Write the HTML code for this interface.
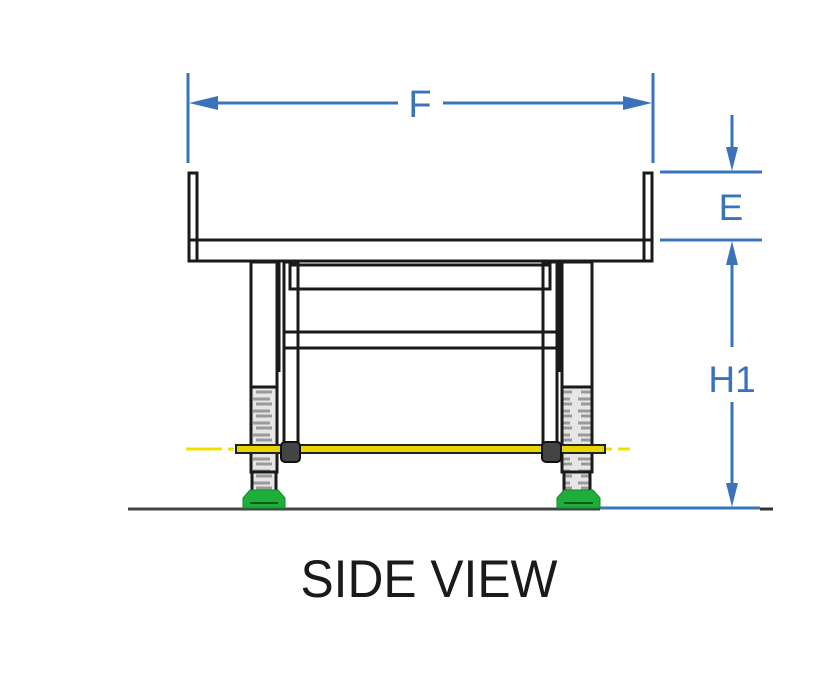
<!DOCTYPE html>
<html><head><meta charset="utf-8"><style>html,body{margin:0;padding:0;background:#fff}svg{display:block}</style></head>
<body>
<svg width="823" height="682" viewBox="0 0 823 682" xmlns="http://www.w3.org/2000/svg">
<defs>
<pattern id="hatch" width="25" height="12" patternUnits="userSpaceOnUse">
<rect width="25" height="12" fill="#e6e6e6"/>
<path d="M3 3 H20 M6 8 H22" stroke="#9a9a9a" stroke-width="3"/>
</pattern>
</defs>
<!-- dimension lines blue -->
<g stroke="#3b73bb" stroke-width="3" fill="none">
<line x1="188" y1="73" x2="188" y2="163"/>
<line x1="653" y1="73" x2="653" y2="163"/>
<line x1="200" y1="103" x2="398" y2="103"/>
<line x1="443" y1="103" x2="641" y2="103"/>
<line x1="660" y1="172" x2="762" y2="172"/>
<line x1="660" y1="240" x2="762" y2="240"/>
<line x1="732" y1="115" x2="732" y2="160"/>
<line x1="732" y1="252" x2="732" y2="347"/>
<line x1="732" y1="402" x2="732" y2="496"/>
<line x1="600" y1="508" x2="760" y2="508"/>
</g>
<g fill="#3b73bb">
<polygon points="189,103 218,96 218,110"/>
<polygon points="652,103 623,96 623,110"/>
<polygon points="732,171 726,147 738,147"/>
<polygon points="732,241 726,265 738,265"/>
<polygon points="732,507 726,483 738,483"/>
</g>
<g fill="#3b73bb" font-family="Liberation Sans, sans-serif" text-anchor="middle">
<text x="420" y="117" font-size="38">F</text>
<text x="731" y="220" font-size="37">E</text>
<text x="732" y="392" font-size="37">H1</text>
</g>
<!-- ground -->
<line x1="128" y1="509" x2="600" y2="509" stroke="#444" stroke-width="3"/>
<line x1="760" y1="509" x2="773" y2="509" stroke="#333" stroke-width="3"/>
<!-- structure -->
<g stroke="#1a1a1a" stroke-width="3" fill="none">
<rect x="189" y="173" width="8" height="88"/>
<rect x="644" y="173" width="8" height="88"/>
<rect x="189" y="240" width="463" height="21"/>
<rect x="251" y="262" width="26" height="210" fill="url(#hatch)"/>
<rect x="562" y="262" width="30" height="210" fill="url(#hatch)"/>
<rect x="252" y="472" width="24" height="20" fill="url(#hatch)"/>
<rect x="564" y="472" width="26" height="20" fill="url(#hatch)"/>
<rect x="251" y="262" width="26" height="125" fill="#fff"/>
<rect x="562" y="262" width="30" height="125" fill="#fff"/>
<line x1="279" y1="262" x2="279" y2="372"/>
<line x1="560" y1="262" x2="560" y2="372"/>
<rect x="284" y="262" width="14" height="188"/>
<rect x="543" y="262" width="14" height="188"/>
<rect x="290" y="265" width="260" height="24"/>
<line x1="284" y1="332" x2="557" y2="332"/>
<line x1="284" y1="348" x2="557" y2="348"/>
</g>
<!-- axle -->
<line x1="186" y1="449" x2="630" y2="449" stroke="#f0e000" stroke-width="3" stroke-dasharray="36,6,6,6"/>
<rect x="236" y="445" width="369" height="8" fill="#e8d400" stroke="#222" stroke-width="2"/>
<rect x="281" y="442" width="19" height="20" rx="4" fill="#444" stroke="#111" stroke-width="2"/>
<rect x="542" y="442" width="19" height="20" rx="4" fill="#444" stroke="#111" stroke-width="2"/>
<!-- feet -->
<g fill="#1fae3c" stroke="#118a2a" stroke-width="1">
<polygon points="243,508 243,498 250,490 278,490 285,498 285,508"/>
<polygon points="557,508 557,498 564,490 593,490 600,498 600,508"/>
</g>
<line x1="250" y1="503" x2="278" y2="503" stroke="#0c5a1c" stroke-width="2"/>
<line x1="564" y1="503" x2="593" y2="503" stroke="#0c5a1c" stroke-width="2"/>
<text x="429" y="597" font-family="Liberation Sans, sans-serif" font-size="53" fill="#1a1a1a" text-anchor="middle" textLength="257" lengthAdjust="spacingAndGlyphs">SIDE VIEW</text>
</svg>
</body></html>
